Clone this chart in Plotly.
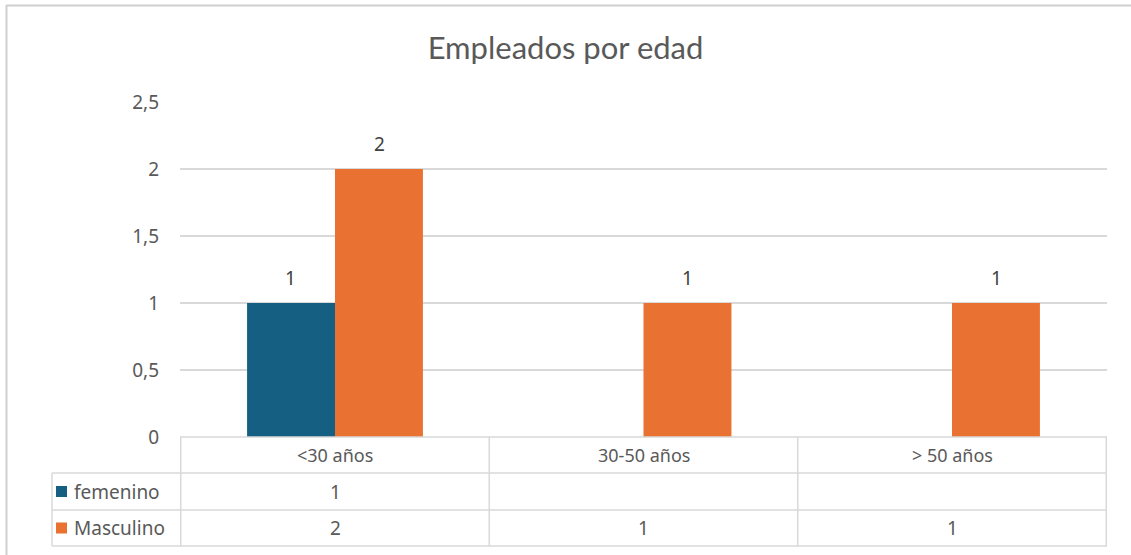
import plotly.graph_objects as go

CATEGORIES = ["<30 años", "30-50 años", "> 50 años"]
FEMENINO = [1, None, None]
MASCULINO = [2, 1, 1]
SERIES = [("femenino", FEMENINO, "#156082"), ("Masculino", MASCULINO, "#E97132")]

W, H = 1131, 555
L, R, T, B = 180, 1107, 102, 437
PW, PH = R - L, B - T
BARGAP = 0.43

GRID = "#d9d9d9"
TEXT = "#595959"
FONT = "Noto Sans, Lato, sans-serif"


def px(x):
    return (x - L) / PW


def py(y):
    return (B - y) / PH


fig = go.Figure()
for name, vals, color in SERIES:
    fig.add_trace(
        go.Bar(
            x=CATEGORIES,
            y=vals,
            name=name,
            marker={"color": color, "line": {"width": 0}},
            hoverinfo="skip",
        )
    )

fig.update_layout(
    width=W,
    height=H,
    margin={"l": L, "r": W - R, "t": T, "b": H - B, "pad": 0},
    paper_bgcolor="white",
    plot_bgcolor="white",
    showlegend=False,
    barmode="group",
    bargap=BARGAP,
    bargroupgap=0,
    separators=",.",
    title={
        "text": "Empleados por edad",
        "x": 0.5,
        "xanchor": "center",
        "y": 1 - 48 / H,
        "yanchor": "middle",
        "font": {"size": 31, "color": TEXT, "family": "Lato, sans-serif"},
    },
    font={"family": FONT, "color": TEXT},
)
fig.update_yaxes(
    range=[0, 2.5],
    dtick=0.5,
    gridcolor=GRID,
    gridwidth=1.5,
    zeroline=False,
    showline=False,
    ticks="",
    ticklabelstandoff=20,
    tickfont={"size": 19, "color": TEXT, "family": FONT},
)
fig.update_xaxes(showticklabels=False, showgrid=False, zeroline=False, showline=False, ticks="")

annotations = []

# data labels above the bars
bar_w = PW / len(CATEGORIES) * (1 - BARGAP) / len(SERIES)
for i, (name, vals, color) in enumerate(SERIES):
    shift = (i - (len(SERIES) - 1) / 2) * bar_w
    for c, v in zip(CATEGORIES, vals):
        if v is not None:
            annotations.append(dict(x=c, xref="x", y=v, yref="y", text=str(v), showarrow=False,
                                    xshift=shift, yshift=25, xanchor="center", yanchor="middle",
                                    font={"size": 19, "color": "#404040", "family": FONT}))

# data table under the plot
shapes = []
line = {"color": GRID, "width": 1.5}
tl = 52
shapes.append(dict(type="line", xref="paper", yref="paper", x0=0, x1=1, y0=py(B), y1=py(B), line=line))
for y in [473, 510, 546]:
    shapes.append(dict(type="line", xref="paper", yref="paper", x0=px(tl), x1=1, y0=py(y), y1=py(y), line=line))
shapes.append(dict(type="line", xref="paper", yref="paper", x0=px(tl), x1=px(tl), y0=py(473), y1=py(546), line=line))
for x in [-0.5, 0.5, 1.5, 2.5]:
    shapes.append(dict(type="line", xref="x", yref="paper", x0=x, x1=x, y0=py(B), y1=py(546), line=line))
# outer chart border (top and left visible)
shapes.append(dict(type="line", xref="paper", yref="paper", x0=px(6), x1=px(W + 5), y0=py(5.5), y1=py(5.5),
                   line={"color": "#d0d0d0", "width": 2}))
shapes.append(dict(type="line", xref="paper", yref="paper", x0=px(6.5), x1=px(6.5), y0=py(5), y1=py(H + 5),
                   line={"color": "#d0d0d0", "width": 2}))

for c in CATEGORIES:
    annotations.append(dict(x=c, xref="x", y=py(455), yref="paper", text=c, showarrow=False,
                            xanchor="center", yanchor="middle",
                            font={"size": 18, "color": TEXT, "family": FONT}))
for (name, vals, color), yc in zip(SERIES, [491.5, 528]):
    shapes.append(dict(type="rect", xref="paper", yref="paper", x0=px(56), x1=px(67),
                       y0=py(yc + 5.5), y1=py(yc - 5.5), fillcolor=color, line={"width": 0}))
    annotations.append(dict(x=px(72), xref="paper", y=py(yc), yref="paper", text=name, showarrow=False,
                            xanchor="left", yanchor="middle",
                            font={"size": 19, "color": TEXT, "family": FONT}))
    for c, v in zip(CATEGORIES, vals):
        if v is not None:
            annotations.append(dict(x=c, xref="x", y=py(yc), yref="paper", text=str(v), showarrow=False,
                                    xanchor="center", yanchor="middle",
                                    font={"size": 19, "color": TEXT, "family": FONT}))

fig.update_layout(shapes=shapes, annotations=annotations)

fig.write_html("out.html", config={"displayModeBar": False},
               post_script="document.body.style.margin='0';")
